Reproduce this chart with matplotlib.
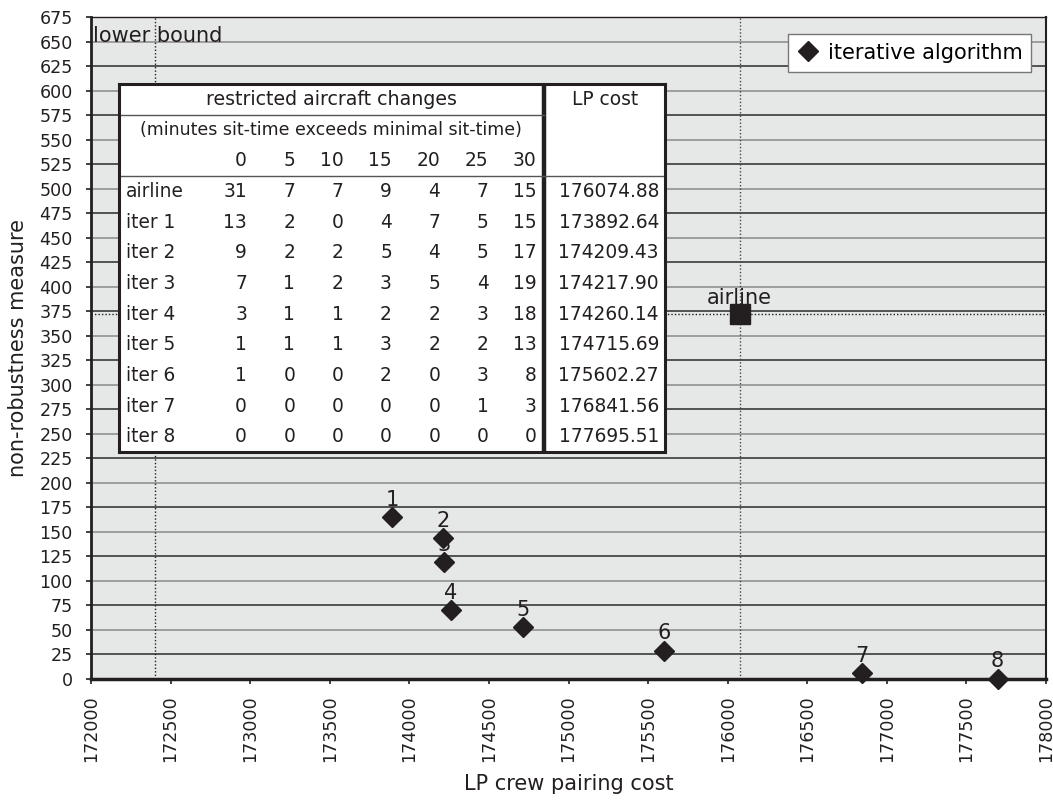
import matplotlib
matplotlib.use('Agg')
import matplotlib.pyplot as plt

# ---------------- data ----------------
iter_labels = ['1', '2', '3', '4', '5', '6', '7', '8']
iter_cost = [173892.64, 174209.43, 174217.90, 174260.14, 174715.69, 175602.27, 176841.56, 177695.51]
iter_nonrob = [165, 144, 119, 70, 53, 29, 6, 0.5]
airline_cost = 176074.88
airline_nonrob = 372
lower_bound = 172400

x_ticks = list(range(172000, 178001, 500))
y_ticks = list(range(0, 676, 25))

table_rows = ['airline', 'iter 1', 'iter 2', 'iter 3', 'iter 4', 'iter 5', 'iter 6', 'iter 7', 'iter 8']
sit_minutes = [0, 5, 10, 15, 20, 25, 30]
aircraft_changes = [
    [31, 7, 7, 9, 4, 7, 15],
    [13, 2, 0, 4, 7, 5, 15],
    [9, 2, 2, 5, 4, 5, 17],
    [7, 1, 2, 3, 5, 4, 19],
    [3, 1, 1, 2, 2, 3, 18],
    [1, 1, 1, 3, 2, 2, 13],
    [1, 0, 0, 2, 0, 3, 8],
    [0, 0, 0, 0, 0, 1, 3],
    [0, 0, 0, 0, 0, 0, 0],
]
lp_cost = ['176074.88', '173892.64', '174209.43', '174217.90', '174260.14',
           '174715.69', '175602.27', '176841.56', '177695.51']

# ---------------- figure ----------------
W, H = 1053, 801
FS_TICK = 12.6
FS_LAB = 15.0
FS_TAB = 13.4
INK = '#231f20'
plt.rcParams['font.family'] = ['DejaVu Sans']
fig = plt.figure(figsize=(W / 100, H / 100), dpi=100)

ax = fig.add_axes([91 / W, 1 - 679 / H, 955 / W, 662 / H])
ax.set_facecolor('#e6e7e7')
ax.set_xlim(x_ticks[0], x_ticks[-1])
ax.set_ylim(y_ticks[0], y_ticks[-1])
ax.set_xticks(x_ticks)
ax.set_yticks(y_ticks)
ax.set_xticklabels([str(t) for t in x_ticks], rotation=90)

for y in y_ticks[1:-1]:
    ax.axhline(y, color='#8a8a8a' if y % 50 == 0 else '#2a2a2a', lw=1.1, zorder=1)

ax.axvline(lower_bound, color=INK, lw=1.0, ls=(0, (1, 1.5)), zorder=2)
ax.axvline(airline_cost, color='#444444', lw=1.0, ls=(0, (1, 1.5)), zorder=2)
ax.axhline(airline_nonrob, color=INK, lw=1.0, ls=(0, (1, 1.5)), zorder=2)

ax.plot(iter_cost, iter_nonrob, ls='none', marker='D', ms=10.5, color=INK,
        label='iterative algorithm', zorder=6, clip_on=False)
ax.plot([airline_cost], [airline_nonrob], ls='none', marker='s', ms=14.5, color=INK,
        zorder=6)

for lbl, x, y in zip(iter_labels, iter_cost, iter_nonrob):
    ax.annotate(lbl, (x, y), xytext=(0, 8), textcoords='offset points',
                ha='center', va='baseline', fontsize=FS_LAB, color=INK, zorder=5)
ax.annotate('airline', (airline_cost, airline_nonrob), xytext=(0, 7),
            textcoords='offset points', ha='center', va='baseline',
            fontsize=FS_LAB, color=INK, zorder=5)

ax.text(172014, 649, 'lower bound', ha='left', va='baseline', fontsize=FS_LAB,
        color=INK, zorder=3)

for side, lw in [('left', 2.0), ('bottom', 2.5), ('top', 1.0), ('right', 1.5)]:
    ax.spines[side].set_linewidth(lw)
    ax.spines[side].set_color(INK)
    ax.spines[side].set_zorder(7)

ax.tick_params(axis='both', direction='out', length=3.6, width=1.2, color=INK,
               labelsize=FS_TICK, labelcolor=INK)
ax.tick_params(axis='y', pad=9.5)
ax.tick_params(axis='x', pad=8)
ax.set_xlabel('LP crew pairing cost', fontsize=FS_LAB, color=INK, labelpad=9)
ax.set_ylabel('non-robustness measure', fontsize=FS_LAB, color=INK, labelpad=8)

leg = ax.legend(loc='upper right', bbox_to_anchor=(0.9843, 0.9743),
                borderaxespad=0, fontsize=FS_LAB, frameon=True, fancybox=False,
                handlelength=1.1, handletextpad=0.4, borderpad=0.42,
                edgecolor='#777777', facecolor='white', framealpha=1)
leg.get_frame().set_linewidth(1.0)

# ---------------- inset table ----------------
tx0, ty0, tx1, ty1 = 119, 84, 665, 452
tw, th = tx1 - tx0, ty1 - ty0
tab = fig.add_axes([tx0 / W, 1 - ty1 / H, tw / W, th / H])
tab.set_xlim(0, tw)
tab.set_ylim(th, 0)
tab.set_xticks([])
tab.set_yticks([])
tab.set_facecolor('white')
tab.set_zorder(10)
for s in tab.spines.values():
    s.set_linewidth(2.2)
    s.set_color(INK)

rh = th / 12.0
sep_x = 424.5
tab.plot([sep_x, sep_x], [0, th], color=INK, lw=3.2, solid_capstyle='butt')
tab.plot([0, sep_x], [rh, rh], color='#555555', lw=1.0)
tab.plot([0, tw], [3 * rh, 3 * rh], color='#555555', lw=1.0)

tab.text(sep_x / 2, 0.5 * rh, 'restricted aircraft changes', ha='center', va='center',
         fontsize=FS_TAB + 0.3, color=INK)
tab.text(sep_x / 2, 1.5 * rh, '(minutes sit-time exceeds minimal sit-time)', ha='center',
         va='center', fontsize=12.5, color=INK)
tab.text(486, 0.5 * rh, 'LP cost', ha='center', va='center', fontsize=FS_TAB, color=INK)

col_right = [128 + 48.3 * i for i in range(len(sit_minutes))]
for cx, m in zip(col_right, sit_minutes):
    tab.text(cx, 2.5 * rh, str(m), ha='right', va='center', fontsize=FS_TAB, color=INK)

for r, (name, vals, cost) in enumerate(zip(table_rows, aircraft_changes, lp_cost)):
    yc = (3.5 + r) * rh
    tab.text(7, yc, name, ha='left', va='center', fontsize=FS_TAB, color=INK)
    for cx, v in zip(col_right, vals):
        tab.text(cx, yc, str(v), ha='right', va='center', fontsize=FS_TAB, color=INK)
    tab.text(540, yc, cost, ha='right', va='center', fontsize=FS_TAB, color=INK)

fig.savefig('out.png', dpi=100)
